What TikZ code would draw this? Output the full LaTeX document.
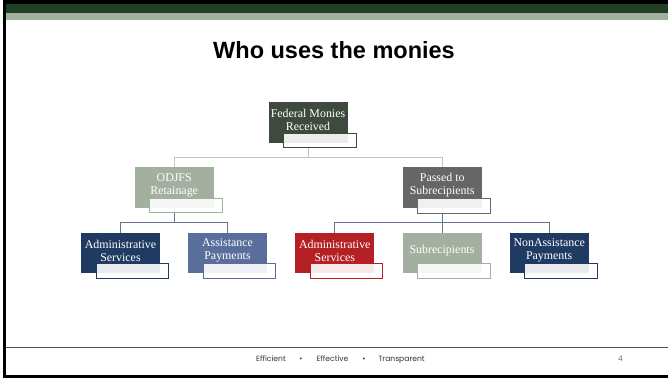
\documentclass[tikz,border=0pt]{standalone}
\usepackage{fontspec}
\setmainfont{Liberation Serif}
\newfontfamily\titlefont{Liberation Sans}
\newfontfamily\footfont{Poppins}
\usetikzlibrary{calc,backgrounds}

\definecolor{bandDark}{HTML}{213F25}
\definecolor{bandLight}{HTML}{9FB09D}
\definecolor{fedCol}{HTML}{3E4A3D}
\definecolor{sageCol}{HTML}{A3B0A0}
\definecolor{greyCol}{HTML}{666666}
\definecolor{navyCol}{HTML}{203B61}
\definecolor{blueCol}{HTML}{5A6E9C}
\definecolor{redCol}{HTML}{B52025}
\definecolor{linkTop}{HTML}{BCC8B9}
\definecolor{linkLow}{HTML}{627590}
\definecolor{footLine}{HTML}{4F4F4F}

\tikzset{
  box/.style={draw=none, fill=#1, minimum width=79pt, minimum height=40.5pt, inner sep=0pt},
  tagbox/.style={draw=#1, fill=white, fill opacity=0.9, line width=0.8pt,
                 minimum width=72.5pt, minimum height=14.5pt, inner sep=0pt},
  boxtext/.style={text=white, align=center, font=\fontsize{11.9}{12.8}\selectfont, inner sep=0pt},
  link/.style={line width=1pt, draw=#1},
  foot/.style={font=\footfont\fontsize{7.6}{8}\selectfont, text=black!80, anchor=base, inner sep=0pt}
}

\begin{document}
\begin{tikzpicture}[x=1pt,y=-1pt]
\useasboundingbox (0,0) rectangle (668,378);

% title
\node[font=\titlefont\bfseries\fontsize{23.5}{26}\selectfont, anchor=base, inner sep=0pt] (title) at (334,58) {Who uses the monies};

% level 1
\node[box=fedCol] (fed) at (308,122.5) {};
\node[boxtext] (fedtxt) at ($(fed.north)+(0,17.5)$) {Federal Monies\\Received};
\node[tagbox=fedCol] (fedtag) at ($(fed.center)+(11.75,18)$) {};

% level 2
\node[box=sageCol] (odj) at (174.2,187.5) {};
\node[boxtext] (odjtxt) at ($(odj.north)+(0,18)$) {ODJFS\\Retainage};
\node[tagbox=sageCol] (odjtag) at ($(odj.center)+(11.75,18)$) {};

\node[box=greyCol] (pas) at (442.2,187.7) {};
\node[boxtext] (pastxt) at ($(pas.north)+(0,18)$) {Passed to\\Subrecipients};
\node[tagbox=greyCol] (pastag) at ($(pas.center)+(11.75,18)$) {};

% level 3
\node[box=navyCol] (adm) at (120.5,253) {};
\node[boxtext] (admtxt) at ($(adm.north)+(0,18)$) {Administrative\\Services};
\node[tagbox=navyCol] (admtag) at ($(adm.center)+(11.75,18)$) {};

\node[box=blueCol] (asp) at (227.5,253) {};
\node[boxtext] (asptxt) at ($(asp.north)+(0,18)$) {Assistance\\Payments};
\node[tagbox=blueCol] (asptag) at ($(asp.center)+(11.75,18)$) {};

\node[box=redCol] (sub) at (334.8,253) {};
\node[boxtext] (subtxt) at ($(sub.north)+(0,18)$) {Administrative\\Services};
\node[tagbox=redCol] (subtag) at ($(sub.center)+(11.75,18)$) {};

\node[box=sageCol] (rec) at (442,253) {};
\node[boxtext] (rectxt) at ($(rec.north)+(0,18)$) {Subrecipients};
\node[tagbox=sageCol] (rectag) at ($(rec.center)+(11.75,18)$) {};

\node[box=navyCol] (non) at (549.2,253) {};
\node[boxtext] (nontxt) at ($(non.north)+(0,18)$) {NonAssistance\\Payments};
\node[tagbox=navyCol] (nontag) at ($(non.center)+(11.75,18)$) {};

\begin{pgfonlayer}{background}
  % slide background, header bands and frame
  \fill[white] (0,0) rectangle (668,378);
  \fill[black] (2.7,0) rectangle (668,4.3);
  \fill[bandDark] (5.5,4.3) rectangle (668,12.7);
  \fill[bandLight] (5.5,12.7) rectangle (668,20);
  \fill[black] (2.7,0) rectangle (5.5,378);
  \fill[black] (2.7,375) rectangle (668,378);
  \draw[footLine, line width=1.3pt] (5.5,347.3) -- (668,347.3);

  % connectors behind the boxes
  \draw[link=linkTop] (fed.south) -- ++(0,14.6) -| (odj.north);
  \draw[link=linkTop] (fed.south) -- ++(0,14.6) -| (pas.north);
  \draw[link=linkLow] (odj.south) -- ++(0,14.5) -| (adm.north);
  \draw[link=linkLow] (odj.south) -- ++(0,14.5) -| (asp.north);
  \draw[link=linkLow] (pas.south) -- ++(0,14.5) -| (sub.north);
  \draw[link=linkLow] (pas.south) -- ++(0,14.5) -| (rec.north);
  \draw[link=linkLow] (pas.south) -- ++(0,14.5) -| (non.north);
\end{pgfonlayer}

% footer
\node[foot] (f1) at (271,361.5) {Efficient};
\node[foot] (b1) at (301,361.5) {•};
\node[foot] (f2) at (332.5,361.5) {Effective};
\node[foot] (b2) at (364,361.5) {•};
\node[foot] (f3) at (401.5,361.5) {Transparent};
\node[foot, text=black!55] (pg) at (620.5,361.5) {4};
\end{tikzpicture}
\end{document}
